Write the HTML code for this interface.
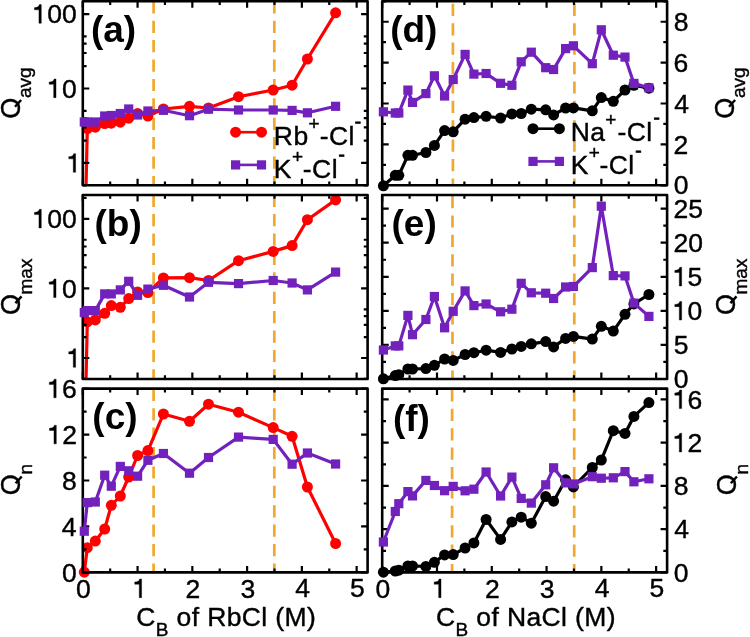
<!DOCTYPE html>
<html><head><meta charset="utf-8"><style>
html,body{margin:0;padding:0;background:#fff;}
svg{display:block;filter:blur(0.3px);}
text{font-family:"Liberation Sans",sans-serif;fill:#000;stroke:#000;stroke-width:0.4px;}
text[font-weight=bold]{stroke:none;}
</style></head><body>
<svg width="750" height="637" viewBox="0 0 750 637" font-family="Liberation Sans, sans-serif">
<rect width="750" height="637" fill="#fff"/>
<line x1="153.6" y1="1.30" x2="153.6" y2="185.60" stroke="#f0a830" stroke-width="2.7" stroke-dasharray="12.2 7.2" stroke-dashoffset="0.00"/>
<line x1="274.3" y1="1.30" x2="274.3" y2="185.60" stroke="#f0a830" stroke-width="2.7" stroke-dasharray="12.2 7.2" stroke-dashoffset="0.00"/>
<line x1="153.6" y1="195.00" x2="153.6" y2="379.30" stroke="#f0a830" stroke-width="2.7" stroke-dasharray="12.2 7.2" stroke-dashoffset="0.30"/>
<line x1="274.3" y1="195.00" x2="274.3" y2="379.30" stroke="#f0a830" stroke-width="2.7" stroke-dasharray="12.2 7.2" stroke-dashoffset="0.30"/>
<line x1="153.6" y1="388.60" x2="153.6" y2="572.70" stroke="#f0a830" stroke-width="2.7" stroke-dasharray="12.2 7.2" stroke-dashoffset="19.20"/>
<line x1="274.3" y1="388.60" x2="274.3" y2="572.70" stroke="#f0a830" stroke-width="2.7" stroke-dasharray="12.2 7.2" stroke-dashoffset="19.20"/>
<line x1="452.9" y1="1.30" x2="452.9" y2="185.60" stroke="#f0a830" stroke-width="2.7" stroke-dasharray="12.2 7.2" stroke-dashoffset="16.90"/>
<line x1="574.4" y1="1.30" x2="574.4" y2="185.60" stroke="#f0a830" stroke-width="2.7" stroke-dasharray="12.2 7.2" stroke-dashoffset="16.90"/>
<line x1="452.5" y1="195.00" x2="452.5" y2="379.30" stroke="#f0a830" stroke-width="2.7" stroke-dasharray="12.2 7.2" stroke-dashoffset="18.40"/>
<line x1="574.3" y1="195.00" x2="574.3" y2="379.30" stroke="#f0a830" stroke-width="2.7" stroke-dasharray="12.2 7.2" stroke-dashoffset="18.40"/>
<line x1="452.1" y1="388.60" x2="452.1" y2="572.70" stroke="#f0a830" stroke-width="2.7" stroke-dasharray="12.2 7.2" stroke-dashoffset="18.60"/>
<line x1="574.2" y1="388.60" x2="574.2" y2="572.70" stroke="#f0a830" stroke-width="2.7" stroke-dasharray="12.2 7.2" stroke-dashoffset="18.60"/>
<path d="M86.05,185.3L87.3,128.6L95.3,127.2L104.7,123.6L111.3,123.2L120.3,122.2L128.7,118.2L137.6,113.5L147.9,116.0L163.4,109.0L189.5,106.3L208.5,108.0L238.5,96.7L273.2,90.0L292.1,85.2L307.4,59.0L335.6,12.8" stroke="#ff0000" stroke-width="3.2" fill="none" stroke-linejoin="round"/>
<circle cx="87.3" cy="128.6" r="5.5" fill="#ff0000"/>
<circle cx="95.3" cy="127.2" r="5.5" fill="#ff0000"/>
<circle cx="104.7" cy="123.6" r="5.5" fill="#ff0000"/>
<circle cx="111.3" cy="123.2" r="5.5" fill="#ff0000"/>
<circle cx="120.3" cy="122.2" r="5.5" fill="#ff0000"/>
<circle cx="128.7" cy="118.2" r="5.5" fill="#ff0000"/>
<circle cx="137.6" cy="113.5" r="5.5" fill="#ff0000"/>
<circle cx="147.9" cy="116.0" r="5.5" fill="#ff0000"/>
<circle cx="163.4" cy="109.0" r="5.5" fill="#ff0000"/>
<circle cx="189.5" cy="106.3" r="5.5" fill="#ff0000"/>
<circle cx="208.5" cy="108.0" r="5.5" fill="#ff0000"/>
<circle cx="238.5" cy="96.7" r="5.5" fill="#ff0000"/>
<circle cx="273.2" cy="90.0" r="5.5" fill="#ff0000"/>
<circle cx="292.1" cy="85.2" r="5.5" fill="#ff0000"/>
<circle cx="307.4" cy="59.0" r="5.5" fill="#ff0000"/>
<circle cx="335.6" cy="12.8" r="5.5" fill="#ff0000"/>
<path d="M86.05,379.0L87.3,321.9L95.3,319.9L104.7,313.3L111.3,305.6L120.3,307.3L128.7,298.6L137.6,291.9L147.9,292.6L163.4,277.9L189.5,277.7L208.5,280.5L238.5,260.7L273.2,251.4L292.1,245.6L307.4,219.7L335.6,199.9" stroke="#ff0000" stroke-width="3.2" fill="none" stroke-linejoin="round"/>
<circle cx="87.3" cy="321.9" r="5.5" fill="#ff0000"/>
<circle cx="95.3" cy="319.9" r="5.5" fill="#ff0000"/>
<circle cx="104.7" cy="313.3" r="5.5" fill="#ff0000"/>
<circle cx="111.3" cy="305.6" r="5.5" fill="#ff0000"/>
<circle cx="120.3" cy="307.3" r="5.5" fill="#ff0000"/>
<circle cx="128.7" cy="298.6" r="5.5" fill="#ff0000"/>
<circle cx="137.6" cy="291.9" r="5.5" fill="#ff0000"/>
<circle cx="147.9" cy="292.6" r="5.5" fill="#ff0000"/>
<circle cx="163.4" cy="277.9" r="5.5" fill="#ff0000"/>
<circle cx="189.5" cy="277.7" r="5.5" fill="#ff0000"/>
<circle cx="208.5" cy="280.5" r="5.5" fill="#ff0000"/>
<circle cx="238.5" cy="260.7" r="5.5" fill="#ff0000"/>
<circle cx="273.2" cy="251.4" r="5.5" fill="#ff0000"/>
<circle cx="292.1" cy="245.6" r="5.5" fill="#ff0000"/>
<circle cx="307.4" cy="219.7" r="5.5" fill="#ff0000"/>
<circle cx="335.6" cy="199.9" r="5.5" fill="#ff0000"/>
<path d="M84.3,572.2L87.3,547.7L95.3,541.1L104.7,529.0L111.3,505.3L120.3,496.0L128.7,477.0L137.6,455.5L147.9,450.6L163.4,414.0L189.5,421.3L208.5,404.2L238.5,412.2L273.2,427.6L292.1,436.3L307.4,487.0L335.6,543.5" stroke="#ff0000" stroke-width="3.2" fill="none" stroke-linejoin="round"/>
<circle cx="84.3" cy="572.2" r="5.5" fill="#ff0000"/>
<circle cx="87.3" cy="547.7" r="5.5" fill="#ff0000"/>
<circle cx="95.3" cy="541.1" r="5.5" fill="#ff0000"/>
<circle cx="104.7" cy="529.0" r="5.5" fill="#ff0000"/>
<circle cx="111.3" cy="505.3" r="5.5" fill="#ff0000"/>
<circle cx="120.3" cy="496.0" r="5.5" fill="#ff0000"/>
<circle cx="128.7" cy="477.0" r="5.5" fill="#ff0000"/>
<circle cx="137.6" cy="455.5" r="5.5" fill="#ff0000"/>
<circle cx="147.9" cy="450.6" r="5.5" fill="#ff0000"/>
<circle cx="163.4" cy="414.0" r="5.5" fill="#ff0000"/>
<circle cx="189.5" cy="421.3" r="5.5" fill="#ff0000"/>
<circle cx="208.5" cy="404.2" r="5.5" fill="#ff0000"/>
<circle cx="238.5" cy="412.2" r="5.5" fill="#ff0000"/>
<circle cx="273.2" cy="427.6" r="5.5" fill="#ff0000"/>
<circle cx="292.1" cy="436.3" r="5.5" fill="#ff0000"/>
<circle cx="307.4" cy="487.0" r="5.5" fill="#ff0000"/>
<circle cx="335.6" cy="543.5" r="5.5" fill="#ff0000"/>
<path d="M383.4,185.8L395.3,175.3L398.8,175.3L407.9,155.3L412.5,155.3L425.9,152.5L434.4,145.4L444.6,130.6L453.2,131.8L465.1,119.2L473.9,117.6L486.1,116.3L500.6,118.0L511.9,113.9L521.2,113.5L531.3,109.2L545.7,109.8L553.6,114.9L565.6,108.0L573.4,107.9L592.3,110.8L601.3,97.6L613.3,101.3L625.0,90.0L633.9,85.3L648.9,88.2" stroke="#000000" stroke-width="3.2" fill="none" stroke-linejoin="round"/>
<circle cx="383.4" cy="185.8" r="5.5" fill="#000000"/>
<circle cx="395.3" cy="175.3" r="5.5" fill="#000000"/>
<circle cx="398.8" cy="175.3" r="5.5" fill="#000000"/>
<circle cx="407.9" cy="155.3" r="5.5" fill="#000000"/>
<circle cx="412.5" cy="155.3" r="5.5" fill="#000000"/>
<circle cx="425.9" cy="152.5" r="5.5" fill="#000000"/>
<circle cx="434.4" cy="145.4" r="5.5" fill="#000000"/>
<circle cx="444.6" cy="130.6" r="5.5" fill="#000000"/>
<circle cx="453.2" cy="131.8" r="5.5" fill="#000000"/>
<circle cx="465.1" cy="119.2" r="5.5" fill="#000000"/>
<circle cx="473.9" cy="117.6" r="5.5" fill="#000000"/>
<circle cx="486.1" cy="116.3" r="5.5" fill="#000000"/>
<circle cx="500.6" cy="118.0" r="5.5" fill="#000000"/>
<circle cx="511.9" cy="113.9" r="5.5" fill="#000000"/>
<circle cx="521.2" cy="113.5" r="5.5" fill="#000000"/>
<circle cx="531.3" cy="109.2" r="5.5" fill="#000000"/>
<circle cx="545.7" cy="109.8" r="5.5" fill="#000000"/>
<circle cx="553.6" cy="114.9" r="5.5" fill="#000000"/>
<circle cx="565.6" cy="108.0" r="5.5" fill="#000000"/>
<circle cx="573.4" cy="107.9" r="5.5" fill="#000000"/>
<circle cx="592.3" cy="110.8" r="5.5" fill="#000000"/>
<circle cx="601.3" cy="97.6" r="5.5" fill="#000000"/>
<circle cx="613.3" cy="101.3" r="5.5" fill="#000000"/>
<circle cx="625.0" cy="90.0" r="5.5" fill="#000000"/>
<circle cx="633.9" cy="85.3" r="5.5" fill="#000000"/>
<circle cx="648.9" cy="88.2" r="5.5" fill="#000000"/>
<path d="M383.4,378.8L395.3,375.6L398.8,374.7L407.9,369.0L412.5,369.0L425.9,368.6L434.4,365.3L444.6,359.0L453.2,360.4L465.1,354.5L473.9,352.7L486.1,350.2L500.6,352.4L511.9,349.0L521.2,346.4L531.3,343.8L545.7,341.6L553.6,346.9L565.6,338.4L573.4,336.4L592.3,339.1L601.3,326.3L613.3,331.1L625.0,314.3L633.9,303.9L648.9,294.5" stroke="#000000" stroke-width="3.2" fill="none" stroke-linejoin="round"/>
<circle cx="383.4" cy="378.8" r="5.5" fill="#000000"/>
<circle cx="395.3" cy="375.6" r="5.5" fill="#000000"/>
<circle cx="398.8" cy="374.7" r="5.5" fill="#000000"/>
<circle cx="407.9" cy="369.0" r="5.5" fill="#000000"/>
<circle cx="412.5" cy="369.0" r="5.5" fill="#000000"/>
<circle cx="425.9" cy="368.6" r="5.5" fill="#000000"/>
<circle cx="434.4" cy="365.3" r="5.5" fill="#000000"/>
<circle cx="444.6" cy="359.0" r="5.5" fill="#000000"/>
<circle cx="453.2" cy="360.4" r="5.5" fill="#000000"/>
<circle cx="465.1" cy="354.5" r="5.5" fill="#000000"/>
<circle cx="473.9" cy="352.7" r="5.5" fill="#000000"/>
<circle cx="486.1" cy="350.2" r="5.5" fill="#000000"/>
<circle cx="500.6" cy="352.4" r="5.5" fill="#000000"/>
<circle cx="511.9" cy="349.0" r="5.5" fill="#000000"/>
<circle cx="521.2" cy="346.4" r="5.5" fill="#000000"/>
<circle cx="531.3" cy="343.8" r="5.5" fill="#000000"/>
<circle cx="545.7" cy="341.6" r="5.5" fill="#000000"/>
<circle cx="553.6" cy="346.9" r="5.5" fill="#000000"/>
<circle cx="565.6" cy="338.4" r="5.5" fill="#000000"/>
<circle cx="573.4" cy="336.4" r="5.5" fill="#000000"/>
<circle cx="592.3" cy="339.1" r="5.5" fill="#000000"/>
<circle cx="601.3" cy="326.3" r="5.5" fill="#000000"/>
<circle cx="613.3" cy="331.1" r="5.5" fill="#000000"/>
<circle cx="625.0" cy="314.3" r="5.5" fill="#000000"/>
<circle cx="633.9" cy="303.9" r="5.5" fill="#000000"/>
<circle cx="648.9" cy="294.5" r="5.5" fill="#000000"/>
<path d="M383.4,572.2L395.3,571.0L398.8,570.2L407.9,566.0L412.5,566.0L425.9,566.4L434.4,562.3L444.6,554.9L453.2,554.6L465.1,548.0L473.9,542.9L486.1,519.5L500.6,539.4L511.9,521.9L521.2,517.2L531.3,523.2L545.7,496.6L553.6,501.2L565.6,479.8L573.4,486.9L592.3,467.5L601.3,460.0L613.3,430.7L625.0,433.4L633.9,416.4L648.9,402.6" stroke="#000000" stroke-width="3.2" fill="none" stroke-linejoin="round"/>
<circle cx="383.4" cy="572.2" r="5.5" fill="#000000"/>
<circle cx="395.3" cy="571.0" r="5.5" fill="#000000"/>
<circle cx="398.8" cy="570.2" r="5.5" fill="#000000"/>
<circle cx="407.9" cy="566.0" r="5.5" fill="#000000"/>
<circle cx="412.5" cy="566.0" r="5.5" fill="#000000"/>
<circle cx="425.9" cy="566.4" r="5.5" fill="#000000"/>
<circle cx="434.4" cy="562.3" r="5.5" fill="#000000"/>
<circle cx="444.6" cy="554.9" r="5.5" fill="#000000"/>
<circle cx="453.2" cy="554.6" r="5.5" fill="#000000"/>
<circle cx="465.1" cy="548.0" r="5.5" fill="#000000"/>
<circle cx="473.9" cy="542.9" r="5.5" fill="#000000"/>
<circle cx="486.1" cy="519.5" r="5.5" fill="#000000"/>
<circle cx="500.6" cy="539.4" r="5.5" fill="#000000"/>
<circle cx="511.9" cy="521.9" r="5.5" fill="#000000"/>
<circle cx="521.2" cy="517.2" r="5.5" fill="#000000"/>
<circle cx="531.3" cy="523.2" r="5.5" fill="#000000"/>
<circle cx="545.7" cy="496.6" r="5.5" fill="#000000"/>
<circle cx="553.6" cy="501.2" r="5.5" fill="#000000"/>
<circle cx="565.6" cy="479.8" r="5.5" fill="#000000"/>
<circle cx="573.4" cy="486.9" r="5.5" fill="#000000"/>
<circle cx="592.3" cy="467.5" r="5.5" fill="#000000"/>
<circle cx="601.3" cy="460.0" r="5.5" fill="#000000"/>
<circle cx="613.3" cy="430.7" r="5.5" fill="#000000"/>
<circle cx="625.0" cy="433.4" r="5.5" fill="#000000"/>
<circle cx="633.9" cy="416.4" r="5.5" fill="#000000"/>
<circle cx="648.9" cy="402.6" r="5.5" fill="#000000"/>
<path d="M82.80,185.30V178.80M82.80,1.30V7.80M110.18,185.30V181.50M110.18,1.30V5.10M137.57,185.30V178.80M137.57,1.30V7.80M164.95,185.30V181.50M164.95,1.30V5.10M192.34,185.30V178.80M192.34,1.30V7.80M219.72,185.30V181.50M219.72,1.30V5.10M247.11,185.30V178.80M247.11,1.30V7.80M274.49,185.30V181.50M274.49,1.30V5.10M301.88,185.30V178.80M301.88,1.30V7.80M329.26,185.30V181.50M329.26,1.30V5.10M356.65,185.30V178.80M356.65,1.30V7.80M82.80,185.36H86.60M367.60,185.36H363.80M82.80,162.95H89.30M367.60,162.95H361.10M82.80,140.54H86.60M367.60,140.54H363.80M82.80,127.43H86.60M367.60,127.43H363.80M82.80,118.13H86.60M367.60,118.13H363.80M82.80,110.91H86.60M367.60,110.91H363.80M82.80,88.50H89.30M367.60,88.50H361.10M82.80,66.09H86.60M367.60,66.09H363.80M82.80,52.98H86.60M367.60,52.98H363.80M82.80,43.68H86.60M367.60,43.68H363.80M82.80,36.46H86.60M367.60,36.46H363.80M82.80,14.05H89.30M367.60,14.05H361.10" stroke="#000" stroke-width="2.2" fill="none"/>
<rect x="82.80" y="1.30" width="284.80" height="184.00" fill="none" stroke="#000" stroke-width="2.6" stroke-linejoin="round"/>
<path d="M82.80,379.00V372.50M82.80,195.00V201.50M110.18,379.00V375.20M110.18,195.00V198.80M137.57,379.00V372.50M137.57,195.00V201.50M164.95,379.00V375.20M164.95,195.00V198.80M192.34,379.00V372.50M192.34,195.00V201.50M219.72,379.00V375.20M219.72,195.00V198.80M247.11,379.00V372.50M247.11,195.00V201.50M274.49,379.00V375.20M274.49,195.00V198.80M301.88,379.00V372.50M301.88,195.00V201.50M329.26,379.00V375.20M329.26,195.00V198.80M356.65,379.00V372.50M356.65,195.00V201.50M82.80,378.95H86.60M367.60,378.95H363.80M82.80,358.00H89.30M367.60,358.00H361.10M82.80,337.05H86.60M367.60,337.05H363.80M82.80,324.79H86.60M367.60,324.79H363.80M82.80,316.10H86.60M367.60,316.10H363.80M82.80,309.35H86.60M367.60,309.35H363.80M82.80,288.40H89.30M367.60,288.40H361.10M82.80,267.45H86.60M367.60,267.45H363.80M82.80,255.19H86.60M367.60,255.19H363.80M82.80,246.50H86.60M367.60,246.50H363.80M82.80,239.75H86.60M367.60,239.75H363.80M82.80,218.80H89.30M367.60,218.80H361.10M82.80,197.85H86.60M367.60,197.85H363.80" stroke="#000" stroke-width="2.2" fill="none"/>
<rect x="82.80" y="195.00" width="284.80" height="184.00" fill="none" stroke="#000" stroke-width="2.6" stroke-linejoin="round"/>
<path d="M82.80,572.40V565.90M82.80,388.60V395.10M110.18,572.40V568.60M110.18,388.60V392.40M137.57,572.40V565.90M137.57,388.60V395.10M164.95,572.40V568.60M164.95,388.60V392.40M192.34,572.40V565.90M192.34,388.60V395.10M219.72,572.40V568.60M219.72,388.60V392.40M247.11,572.40V565.90M247.11,388.60V395.10M274.49,572.40V568.60M274.49,388.60V392.40M301.88,572.40V565.90M301.88,388.60V395.10M329.26,572.40V568.60M329.26,388.60V392.40M356.65,572.40V565.90M356.65,388.60V395.10M82.80,572.40H89.30M367.60,572.40H361.10M82.80,549.42H86.60M367.60,549.42H363.80M82.80,526.45H89.30M367.60,526.45H361.10M82.80,503.48H86.60M367.60,503.48H363.80M82.80,480.50H89.30M367.60,480.50H361.10M82.80,457.52H86.60M367.60,457.52H363.80M82.80,434.55H89.30M367.60,434.55H361.10M82.80,411.58H86.60M367.60,411.58H363.80M82.80,388.60H89.30M367.60,388.60H361.10" stroke="#000" stroke-width="2.2" fill="none"/>
<rect x="82.80" y="388.60" width="284.80" height="183.80" fill="none" stroke="#000" stroke-width="2.6" stroke-linejoin="round"/>
<path d="M382.20,185.30V178.80M382.20,1.30V7.80M409.59,185.30V181.50M409.59,1.30V5.10M436.99,185.30V178.80M436.99,1.30V7.80M464.38,185.30V181.50M464.38,1.30V5.10M491.78,185.30V178.80M491.78,1.30V7.80M519.17,185.30V181.50M519.17,1.30V5.10M546.57,185.30V178.80M546.57,1.30V7.80M573.96,185.30V181.50M573.96,1.30V5.10M601.35,185.30V178.80M601.35,1.30V7.80M628.75,185.30V181.50M628.75,1.30V5.10M656.14,185.30V178.80M656.14,1.30V7.80M382.20,185.30H388.70M667.10,185.30H660.60M382.20,164.86H386.00M667.10,164.86H663.30M382.20,144.41H388.70M667.10,144.41H660.60M382.20,123.97H386.00M667.10,123.97H663.30M382.20,103.52H388.70M667.10,103.52H660.60M382.20,83.08H386.00M667.10,83.08H663.30M382.20,62.63H388.70M667.10,62.63H660.60M382.20,42.19H386.00M667.10,42.19H663.30M382.20,21.74H388.70M667.10,21.74H660.60M382.20,1.30H386.00M667.10,1.30H663.30" stroke="#000" stroke-width="2.2" fill="none"/>
<rect x="382.20" y="1.30" width="284.90" height="184.00" fill="none" stroke="#000" stroke-width="2.6" stroke-linejoin="round"/>
<path d="M382.20,379.00V372.50M382.20,195.00V201.50M409.59,379.00V375.20M409.59,195.00V198.80M436.99,379.00V372.50M436.99,195.00V201.50M464.38,379.00V375.20M464.38,195.00V198.80M491.78,379.00V372.50M491.78,195.00V201.50M519.17,379.00V375.20M519.17,195.00V198.80M546.57,379.00V372.50M546.57,195.00V201.50M573.96,379.00V375.20M573.96,195.00V198.80M601.35,379.00V372.50M601.35,195.00V201.50M628.75,379.00V375.20M628.75,195.00V198.80M656.14,379.00V372.50M656.14,195.00V201.50M382.20,379.00H388.70M667.10,379.00H660.60M382.20,361.96H386.00M667.10,361.96H663.30M382.20,344.93H388.70M667.10,344.93H660.60M382.20,327.89H386.00M667.10,327.89H663.30M382.20,310.85H388.70M667.10,310.85H660.60M382.20,293.81H386.00M667.10,293.81H663.30M382.20,276.78H388.70M667.10,276.78H660.60M382.20,259.74H386.00M667.10,259.74H663.30M382.20,242.70H388.70M667.10,242.70H660.60M382.20,225.67H386.00M667.10,225.67H663.30M382.20,208.63H388.70M667.10,208.63H660.60" stroke="#000" stroke-width="2.2" fill="none"/>
<rect x="382.20" y="195.00" width="284.90" height="184.00" fill="none" stroke="#000" stroke-width="2.6" stroke-linejoin="round"/>
<path d="M382.20,572.40V565.90M382.20,388.60V395.10M409.59,572.40V568.60M409.59,388.60V392.40M436.99,572.40V565.90M436.99,388.60V395.10M464.38,572.40V568.60M464.38,388.60V392.40M491.78,572.40V565.90M491.78,388.60V395.10M519.17,572.40V568.60M519.17,388.60V392.40M546.57,572.40V565.90M546.57,388.60V395.10M573.96,572.40V568.60M573.96,388.60V392.40M601.35,572.40V565.90M601.35,388.60V395.10M628.75,572.40V568.60M628.75,388.60V392.40M656.14,572.40V565.90M656.14,388.60V395.10M382.20,572.40H388.70M667.10,572.40H660.60M382.20,550.78H386.00M667.10,550.78H663.30M382.20,529.15H388.70M667.10,529.15H660.60M382.20,507.53H386.00M667.10,507.53H663.30M382.20,485.91H388.70M667.10,485.91H660.60M382.20,464.28H386.00M667.10,464.28H663.30M382.20,442.66H388.70M667.10,442.66H660.60M382.20,421.04H386.00M667.10,421.04H663.30M382.20,399.41H388.70M667.10,399.41H660.60" stroke="#000" stroke-width="2.2" fill="none"/>
<rect x="382.20" y="388.60" width="284.90" height="183.80" fill="none" stroke="#000" stroke-width="2.6" stroke-linejoin="round"/>
<path d="M84.3,122.0L87.3,122.0L95.3,122.0L104.7,116.0L111.3,115.5L120.3,113.5L128.7,109.0L137.6,115.0L147.9,111.0L163.4,110.3L189.5,115.7L208.5,109.2L238.5,110.0L273.2,110.0L292.1,110.4L307.4,112.8L335.6,106.3" stroke="#7221bc" stroke-width="3.2" fill="none" stroke-linejoin="round"/>
<rect x="79.7" y="117.4" width="9.2" height="9.2" fill="#7221bc"/>
<rect x="82.7" y="117.4" width="9.2" height="9.2" fill="#7221bc"/>
<rect x="90.7" y="117.4" width="9.2" height="9.2" fill="#7221bc"/>
<rect x="100.1" y="111.4" width="9.2" height="9.2" fill="#7221bc"/>
<rect x="106.7" y="110.9" width="9.2" height="9.2" fill="#7221bc"/>
<rect x="115.7" y="108.9" width="9.2" height="9.2" fill="#7221bc"/>
<rect x="124.1" y="104.4" width="9.2" height="9.2" fill="#7221bc"/>
<rect x="133.0" y="110.4" width="9.2" height="9.2" fill="#7221bc"/>
<rect x="143.3" y="106.4" width="9.2" height="9.2" fill="#7221bc"/>
<rect x="158.8" y="105.7" width="9.2" height="9.2" fill="#7221bc"/>
<rect x="184.9" y="111.1" width="9.2" height="9.2" fill="#7221bc"/>
<rect x="203.9" y="104.6" width="9.2" height="9.2" fill="#7221bc"/>
<rect x="233.9" y="105.4" width="9.2" height="9.2" fill="#7221bc"/>
<rect x="268.6" y="105.4" width="9.2" height="9.2" fill="#7221bc"/>
<rect x="287.5" y="105.8" width="9.2" height="9.2" fill="#7221bc"/>
<rect x="302.8" y="108.2" width="9.2" height="9.2" fill="#7221bc"/>
<rect x="331.0" y="101.7" width="9.2" height="9.2" fill="#7221bc"/>
<path d="M84.3,312.6L87.3,310.6L95.3,310.6L104.7,293.9L111.3,293.9L120.3,289.9L128.7,281.3L137.6,295.3L147.9,289.1L163.4,285.3L189.5,297.0L208.5,282.3L238.5,283.6L273.2,280.5L292.1,283.0L307.4,289.9L335.6,272.1" stroke="#7221bc" stroke-width="3.2" fill="none" stroke-linejoin="round"/>
<rect x="79.7" y="308.0" width="9.2" height="9.2" fill="#7221bc"/>
<rect x="82.7" y="306.0" width="9.2" height="9.2" fill="#7221bc"/>
<rect x="90.7" y="306.0" width="9.2" height="9.2" fill="#7221bc"/>
<rect x="100.1" y="289.3" width="9.2" height="9.2" fill="#7221bc"/>
<rect x="106.7" y="289.3" width="9.2" height="9.2" fill="#7221bc"/>
<rect x="115.7" y="285.3" width="9.2" height="9.2" fill="#7221bc"/>
<rect x="124.1" y="276.7" width="9.2" height="9.2" fill="#7221bc"/>
<rect x="133.0" y="290.7" width="9.2" height="9.2" fill="#7221bc"/>
<rect x="143.3" y="284.5" width="9.2" height="9.2" fill="#7221bc"/>
<rect x="158.8" y="280.7" width="9.2" height="9.2" fill="#7221bc"/>
<rect x="184.9" y="292.4" width="9.2" height="9.2" fill="#7221bc"/>
<rect x="203.9" y="277.7" width="9.2" height="9.2" fill="#7221bc"/>
<rect x="233.9" y="279.0" width="9.2" height="9.2" fill="#7221bc"/>
<rect x="268.6" y="275.9" width="9.2" height="9.2" fill="#7221bc"/>
<rect x="287.5" y="278.4" width="9.2" height="9.2" fill="#7221bc"/>
<rect x="302.8" y="285.3" width="9.2" height="9.2" fill="#7221bc"/>
<rect x="331.0" y="267.5" width="9.2" height="9.2" fill="#7221bc"/>
<path d="M84.3,531.2L87.3,502.6L95.3,502.0L104.7,475.2L111.3,486.2L120.3,466.4L128.7,470.8L137.6,476.2L147.9,460.3L163.4,453.5L189.5,473.2L208.5,457.5L238.5,437.1L273.2,439.4L292.1,464.2L307.4,453.0L335.6,464.0" stroke="#7221bc" stroke-width="3.2" fill="none" stroke-linejoin="round"/>
<rect x="79.7" y="526.6" width="9.2" height="9.2" fill="#7221bc"/>
<rect x="82.7" y="498.0" width="9.2" height="9.2" fill="#7221bc"/>
<rect x="90.7" y="497.4" width="9.2" height="9.2" fill="#7221bc"/>
<rect x="100.1" y="470.6" width="9.2" height="9.2" fill="#7221bc"/>
<rect x="106.7" y="481.6" width="9.2" height="9.2" fill="#7221bc"/>
<rect x="115.7" y="461.8" width="9.2" height="9.2" fill="#7221bc"/>
<rect x="124.1" y="466.2" width="9.2" height="9.2" fill="#7221bc"/>
<rect x="133.0" y="471.6" width="9.2" height="9.2" fill="#7221bc"/>
<rect x="143.3" y="455.7" width="9.2" height="9.2" fill="#7221bc"/>
<rect x="158.8" y="448.9" width="9.2" height="9.2" fill="#7221bc"/>
<rect x="184.9" y="468.6" width="9.2" height="9.2" fill="#7221bc"/>
<rect x="203.9" y="452.9" width="9.2" height="9.2" fill="#7221bc"/>
<rect x="233.9" y="432.5" width="9.2" height="9.2" fill="#7221bc"/>
<rect x="268.6" y="434.8" width="9.2" height="9.2" fill="#7221bc"/>
<rect x="287.5" y="459.6" width="9.2" height="9.2" fill="#7221bc"/>
<rect x="302.8" y="448.4" width="9.2" height="9.2" fill="#7221bc"/>
<rect x="331.0" y="459.4" width="9.2" height="9.2" fill="#7221bc"/>
<path d="M383.4,111.8L395.3,113.0L398.8,113.0L407.9,90.1L412.5,102.4L425.9,93.6L434.4,75.8L444.6,96.0L453.2,79.5L465.1,54.4L473.9,74.1L486.1,73.5L500.6,83.3L511.9,85.3L521.2,61.8L531.3,52.2L545.7,67.7L553.6,69.5L565.6,48.6L573.4,45.8L592.3,63.7L601.3,29.8L613.3,55.2L625.0,57.1L633.9,83.4L648.9,87.8" stroke="#7221bc" stroke-width="3.2" fill="none" stroke-linejoin="round"/>
<rect x="378.8" y="107.2" width="9.2" height="9.2" fill="#7221bc"/>
<rect x="390.7" y="108.4" width="9.2" height="9.2" fill="#7221bc"/>
<rect x="394.2" y="108.4" width="9.2" height="9.2" fill="#7221bc"/>
<rect x="403.3" y="85.5" width="9.2" height="9.2" fill="#7221bc"/>
<rect x="407.9" y="97.8" width="9.2" height="9.2" fill="#7221bc"/>
<rect x="421.3" y="89.0" width="9.2" height="9.2" fill="#7221bc"/>
<rect x="429.8" y="71.2" width="9.2" height="9.2" fill="#7221bc"/>
<rect x="440.0" y="91.4" width="9.2" height="9.2" fill="#7221bc"/>
<rect x="448.6" y="74.9" width="9.2" height="9.2" fill="#7221bc"/>
<rect x="460.5" y="49.8" width="9.2" height="9.2" fill="#7221bc"/>
<rect x="469.3" y="69.5" width="9.2" height="9.2" fill="#7221bc"/>
<rect x="481.5" y="68.9" width="9.2" height="9.2" fill="#7221bc"/>
<rect x="496.0" y="78.7" width="9.2" height="9.2" fill="#7221bc"/>
<rect x="507.3" y="80.7" width="9.2" height="9.2" fill="#7221bc"/>
<rect x="516.6" y="57.2" width="9.2" height="9.2" fill="#7221bc"/>
<rect x="526.7" y="47.6" width="9.2" height="9.2" fill="#7221bc"/>
<rect x="541.1" y="63.1" width="9.2" height="9.2" fill="#7221bc"/>
<rect x="549.0" y="64.9" width="9.2" height="9.2" fill="#7221bc"/>
<rect x="561.0" y="44.0" width="9.2" height="9.2" fill="#7221bc"/>
<rect x="568.8" y="41.2" width="9.2" height="9.2" fill="#7221bc"/>
<rect x="587.7" y="59.1" width="9.2" height="9.2" fill="#7221bc"/>
<rect x="596.7" y="25.2" width="9.2" height="9.2" fill="#7221bc"/>
<rect x="608.7" y="50.6" width="9.2" height="9.2" fill="#7221bc"/>
<rect x="620.4" y="52.5" width="9.2" height="9.2" fill="#7221bc"/>
<rect x="629.3" y="78.8" width="9.2" height="9.2" fill="#7221bc"/>
<rect x="644.3" y="83.2" width="9.2" height="9.2" fill="#7221bc"/>
<path d="M383.4,350.0L395.3,345.9L398.8,345.9L407.9,315.4L412.5,334.7L425.9,319.5L434.4,296.5L444.6,327.8L453.2,311.3L465.1,290.9L473.9,305.6L486.1,304.0L500.6,311.8L511.9,309.2L521.2,283.3L531.3,292.8L545.7,293.2L553.6,298.5L565.6,287.0L573.4,286.5L592.3,267.6L601.3,206.2L613.3,275.6L625.0,275.9L633.9,303.1L648.9,316.4" stroke="#7221bc" stroke-width="3.2" fill="none" stroke-linejoin="round"/>
<rect x="378.8" y="345.4" width="9.2" height="9.2" fill="#7221bc"/>
<rect x="390.7" y="341.3" width="9.2" height="9.2" fill="#7221bc"/>
<rect x="394.2" y="341.3" width="9.2" height="9.2" fill="#7221bc"/>
<rect x="403.3" y="310.8" width="9.2" height="9.2" fill="#7221bc"/>
<rect x="407.9" y="330.1" width="9.2" height="9.2" fill="#7221bc"/>
<rect x="421.3" y="314.9" width="9.2" height="9.2" fill="#7221bc"/>
<rect x="429.8" y="291.9" width="9.2" height="9.2" fill="#7221bc"/>
<rect x="440.0" y="323.2" width="9.2" height="9.2" fill="#7221bc"/>
<rect x="448.6" y="306.7" width="9.2" height="9.2" fill="#7221bc"/>
<rect x="460.5" y="286.3" width="9.2" height="9.2" fill="#7221bc"/>
<rect x="469.3" y="301.0" width="9.2" height="9.2" fill="#7221bc"/>
<rect x="481.5" y="299.4" width="9.2" height="9.2" fill="#7221bc"/>
<rect x="496.0" y="307.2" width="9.2" height="9.2" fill="#7221bc"/>
<rect x="507.3" y="304.6" width="9.2" height="9.2" fill="#7221bc"/>
<rect x="516.6" y="278.7" width="9.2" height="9.2" fill="#7221bc"/>
<rect x="526.7" y="288.2" width="9.2" height="9.2" fill="#7221bc"/>
<rect x="541.1" y="288.6" width="9.2" height="9.2" fill="#7221bc"/>
<rect x="549.0" y="293.9" width="9.2" height="9.2" fill="#7221bc"/>
<rect x="561.0" y="282.4" width="9.2" height="9.2" fill="#7221bc"/>
<rect x="568.8" y="281.9" width="9.2" height="9.2" fill="#7221bc"/>
<rect x="587.7" y="263.0" width="9.2" height="9.2" fill="#7221bc"/>
<rect x="596.7" y="201.6" width="9.2" height="9.2" fill="#7221bc"/>
<rect x="608.7" y="271.0" width="9.2" height="9.2" fill="#7221bc"/>
<rect x="620.4" y="271.3" width="9.2" height="9.2" fill="#7221bc"/>
<rect x="629.3" y="298.5" width="9.2" height="9.2" fill="#7221bc"/>
<rect x="644.3" y="311.8" width="9.2" height="9.2" fill="#7221bc"/>
<path d="M383.4,542.0L395.3,511.5L398.8,503.7L407.9,491.6L412.5,495.9L425.9,480.4L434.4,485.5L444.6,490.7L453.2,486.4L465.1,490.8L473.9,489.2L486.1,472.0L500.6,496.0L511.9,477.1L521.2,498.4L531.3,503.1L545.7,484.8L553.6,467.8L565.6,482.9L573.4,483.9L592.3,476.7L601.3,478.2L613.3,477.8L625.0,471.6L633.9,481.8L648.9,478.8" stroke="#7221bc" stroke-width="3.2" fill="none" stroke-linejoin="round"/>
<rect x="378.8" y="537.4" width="9.2" height="9.2" fill="#7221bc"/>
<rect x="390.7" y="506.9" width="9.2" height="9.2" fill="#7221bc"/>
<rect x="394.2" y="499.1" width="9.2" height="9.2" fill="#7221bc"/>
<rect x="403.3" y="487.0" width="9.2" height="9.2" fill="#7221bc"/>
<rect x="407.9" y="491.3" width="9.2" height="9.2" fill="#7221bc"/>
<rect x="421.3" y="475.8" width="9.2" height="9.2" fill="#7221bc"/>
<rect x="429.8" y="480.9" width="9.2" height="9.2" fill="#7221bc"/>
<rect x="440.0" y="486.1" width="9.2" height="9.2" fill="#7221bc"/>
<rect x="448.6" y="481.8" width="9.2" height="9.2" fill="#7221bc"/>
<rect x="460.5" y="486.2" width="9.2" height="9.2" fill="#7221bc"/>
<rect x="469.3" y="484.6" width="9.2" height="9.2" fill="#7221bc"/>
<rect x="481.5" y="467.4" width="9.2" height="9.2" fill="#7221bc"/>
<rect x="496.0" y="491.4" width="9.2" height="9.2" fill="#7221bc"/>
<rect x="507.3" y="472.5" width="9.2" height="9.2" fill="#7221bc"/>
<rect x="516.6" y="493.8" width="9.2" height="9.2" fill="#7221bc"/>
<rect x="526.7" y="498.5" width="9.2" height="9.2" fill="#7221bc"/>
<rect x="541.1" y="480.2" width="9.2" height="9.2" fill="#7221bc"/>
<rect x="549.0" y="463.2" width="9.2" height="9.2" fill="#7221bc"/>
<rect x="561.0" y="478.3" width="9.2" height="9.2" fill="#7221bc"/>
<rect x="568.8" y="479.3" width="9.2" height="9.2" fill="#7221bc"/>
<rect x="587.7" y="472.1" width="9.2" height="9.2" fill="#7221bc"/>
<rect x="596.7" y="473.6" width="9.2" height="9.2" fill="#7221bc"/>
<rect x="608.7" y="473.2" width="9.2" height="9.2" fill="#7221bc"/>
<rect x="620.4" y="467.0" width="9.2" height="9.2" fill="#7221bc"/>
<rect x="629.3" y="477.2" width="9.2" height="9.2" fill="#7221bc"/>
<rect x="644.3" y="474.2" width="9.2" height="9.2" fill="#7221bc"/>
<path d="M334 0L334 703L265 703C247 628 193 592 76 588L76 506L246 506L246 0Z" transform="translate(66.75,172.26) scale(0.02650,-0.02650)" fill="#000" stroke="#000" stroke-width="15.09"/>
<path d="M334 0L334 703L265 703C247 628 193 592 76 588L76 506L246 506L246 0Z" transform="translate(47.16,97.69) scale(0.02650,-0.02650)" fill="#000" stroke="#000" stroke-width="15.09"/>
<text x="61.90" y="97.69" font-size="26.5" >0</text>
<path d="M334 0L334 703L265 703C247 628 193 592 76 588L76 506L246 506L246 0Z" transform="translate(32.43,23.24) scale(0.02650,-0.02650)" fill="#000" stroke="#000" stroke-width="15.09"/>
<text x="47.16" y="23.24" font-size="26.5" >0</text>
<text x="61.90" y="23.24" font-size="26.5" >0</text>
<path d="M334 0L334 703L265 703C247 628 193 592 76 588L76 506L246 506L246 0Z" transform="translate(66.75,367.31) scale(0.02650,-0.02650)" fill="#000" stroke="#000" stroke-width="15.09"/>
<path d="M334 0L334 703L265 703C247 628 193 592 76 588L76 506L246 506L246 0Z" transform="translate(47.16,297.59) scale(0.02650,-0.02650)" fill="#000" stroke="#000" stroke-width="15.09"/>
<text x="61.90" y="297.59" font-size="26.5" >0</text>
<path d="M334 0L334 703L265 703C247 628 193 592 76 588L76 506L246 506L246 0Z" transform="translate(32.43,227.99) scale(0.02650,-0.02650)" fill="#000" stroke="#000" stroke-width="15.09"/>
<text x="47.16" y="227.99" font-size="26.5" >0</text>
<text x="61.90" y="227.99" font-size="26.5" >0</text>
<text x="61.90" y="581.52" font-size="26.5" >0</text>
<text x="61.64" y="535.57" font-size="26.5" >4</text>
<text x="62.01" y="489.62" font-size="26.5" >8</text>
<path d="M334 0L334 703L265 703C247 628 193 592 76 588L76 506L246 506L246 0Z" transform="translate(47.46,443.86) scale(0.02650,-0.02650)" fill="#000" stroke="#000" stroke-width="15.09"/>
<text x="62.19" y="443.86" font-size="26.5" >2</text>
<path d="M334 0L334 703L265 703C247 628 193 592 76 588L76 506L246 506L246 0Z" transform="translate(47.29,397.79) scale(0.02650,-0.02650)" fill="#000" stroke="#000" stroke-width="15.09"/>
<text x="62.03" y="397.79" font-size="26.5" >6</text>
<text x="673.76" y="194.42" font-size="26.5" >0</text>
<text x="673.47" y="153.66" font-size="26.5" >2</text>
<text x="674.19" y="112.64" font-size="26.5" >4</text>
<text x="673.45" y="71.76" font-size="26.5" >6</text>
<text x="673.65" y="30.87" font-size="26.5" >8</text>
<text x="673.76" y="388.12" font-size="26.5" >0</text>
<text x="673.74" y="353.91" font-size="26.5" >5</text>
<path d="M334 0L334 703L265 703C247 628 193 592 76 588L76 506L246 506L246 0Z" transform="translate(672.79,320.04) scale(0.02650,-0.02650)" fill="#000" stroke="#000" stroke-width="15.09"/>
<text x="687.52" y="320.04" font-size="26.5" >0</text>
<path d="M334 0L334 703L265 703C247 628 193 592 76 588L76 506L246 506L246 0Z" transform="translate(672.79,285.96) scale(0.02650,-0.02650)" fill="#000" stroke="#000" stroke-width="15.09"/>
<text x="687.52" y="285.96" font-size="26.5" >5</text>
<text x="673.47" y="251.83" font-size="26.5" >20</text>
<text x="673.47" y="217.75" font-size="26.5" >25</text>
<text x="673.76" y="581.52" font-size="26.5" >0</text>
<text x="674.19" y="538.27" font-size="26.5" >4</text>
<text x="673.65" y="495.03" font-size="26.5" >8</text>
<path d="M334 0L334 703L265 703C247 628 193 592 76 588L76 506L246 506L246 0Z" transform="translate(672.79,451.97) scale(0.02650,-0.02650)" fill="#000" stroke="#000" stroke-width="15.09"/>
<text x="687.52" y="451.97" font-size="26.5" >2</text>
<path d="M334 0L334 703L265 703C247 628 193 592 76 588L76 506L246 506L246 0Z" transform="translate(672.79,408.60) scale(0.02650,-0.02650)" fill="#000" stroke="#000" stroke-width="15.09"/>
<text x="687.52" y="408.60" font-size="26.5" >6</text>
<text x="76.03" y="597.50" font-size="26.5" >0</text>
<path d="M334 0L334 703L265 703C247 628 193 592 76 588L76 506L246 506L246 0Z" transform="translate(132.74,597.63) scale(0.02650,-0.02650)" fill="#000" stroke="#000" stroke-width="15.09"/>
<text x="185.57" y="597.50" font-size="26.5" >2</text>
<text x="240.42" y="597.50" font-size="26.5" >3</text>
<text x="295.19" y="597.23" font-size="26.5" >4</text>
<text x="349.90" y="597.23" font-size="26.5" >5</text>
<text x="375.43" y="597.50" font-size="26.5" >0</text>
<path d="M334 0L334 703L265 703C247 628 193 592 76 588L76 506L246 506L246 0Z" transform="translate(432.16,597.63) scale(0.02650,-0.02650)" fill="#000" stroke="#000" stroke-width="15.09"/>
<text x="485.01" y="597.50" font-size="26.5" >2</text>
<text x="539.87" y="597.50" font-size="26.5" >3</text>
<text x="594.67" y="597.23" font-size="26.5" >4</text>
<text x="649.40" y="597.23" font-size="26.5" >5</text>
<text x="90.96" y="42.11" font-size="37" font-weight="bold" >(a)</text>
<text x="94.56" y="235.81" font-size="37" font-weight="bold" >(b)</text>
<text x="92.36" y="429.11" font-size="37" font-weight="bold" >(c)</text>
<text x="390.16" y="42.11" font-size="37" font-weight="bold" >(d)</text>
<text x="391.56" y="236.41" font-size="37" font-weight="bold" >(e)</text>
<text x="392.96" y="431.41" font-size="37" font-weight="bold" >(f)</text>
<g transform="translate(19.80,118.64) rotate(-90)"><text x="0" y="0" font-size="26.5" transform="scale(1.02,1.055)">O</text><text x="20.61" y="10.7" font-size="19">avg</text><line x1="11.93" y1="-4.77" x2="18.68" y2="1.33" stroke="#000" stroke-width="2.44"/></g>
<g transform="translate(20.20,315.08) rotate(-90)"><text x="0" y="0" font-size="26.5" transform="scale(1.02,1.055)">O</text><text x="20.61" y="12.2" font-size="19">max</text><line x1="11.93" y1="-4.77" x2="18.68" y2="1.33" stroke="#000" stroke-width="2.44"/></g>
<g transform="translate(20.40,495.20) rotate(-90)"><text x="0" y="0" font-size="26.5" transform="scale(1.02,1.055)">O</text><text x="20.61" y="12.0" font-size="19">n</text><line x1="11.93" y1="-4.77" x2="18.68" y2="1.33" stroke="#000" stroke-width="2.44"/></g>
<g transform="translate(733.80,118.64) rotate(-90)"><text x="0" y="0" font-size="26.5" transform="scale(1.02,1.055)">O</text><text x="20.61" y="10.7" font-size="19">avg</text><line x1="11.93" y1="-4.77" x2="18.68" y2="1.33" stroke="#000" stroke-width="2.44"/></g>
<g transform="translate(735.20,315.08) rotate(-90)"><text x="0" y="0" font-size="26.5" transform="scale(1.02,1.055)">O</text><text x="20.61" y="12.2" font-size="19">max</text><line x1="11.93" y1="-4.77" x2="18.68" y2="1.33" stroke="#000" stroke-width="2.44"/></g>
<g transform="translate(735.60,495.20) rotate(-90)"><text x="0" y="0" font-size="26.5" transform="scale(1.02,1.055)">O</text><text x="20.61" y="12.0" font-size="19">n</text><line x1="11.93" y1="-4.77" x2="18.68" y2="1.33" stroke="#000" stroke-width="2.44"/></g>
<text x="136.25" y="626.40" font-size="26.5" letter-spacing="0.38">C<tspan font-size="19" dy="10.0">B</tspan><tspan dy="-10.0"> of RbCl (M)</tspan></text>
<text x="435.95" y="626.40" font-size="26.5" letter-spacing="0.38">C<tspan font-size="19" dy="10.0">B</tspan><tspan dy="-10.0"> of NaCl (M)</tspan></text>
<line x1="235.6" y1="132.2" x2="261.5" y2="132.2" stroke="#ff0000" stroke-width="2.6"/>
<circle cx="235.6" cy="132.2" r="5.5" fill="#ff0000"/>
<circle cx="261.5" cy="132.2" r="5.5" fill="#ff0000"/>
<text x="273.83" y="144.7" font-size="26.5" letter-spacing="0.42">Rb<tspan font-size="19" dy="-14.9">+</tspan><tspan dy="14.9" dx="-0.4">-Cl</tspan><tspan font-size="19" dy="-16.4" dx="0.0" stroke="#000" stroke-width="0.8">-</tspan></text>
<line x1="235.6" y1="164.9" x2="261.5" y2="164.9" stroke="#7221bc" stroke-width="2.6"/>
<rect x="231.0" y="160.3" width="9.2" height="9.2" fill="#7221bc"/>
<rect x="256.9" y="160.3" width="9.2" height="9.2" fill="#7221bc"/>
<text x="273.83" y="177.6" font-size="26.5" letter-spacing="0.42">K<tspan font-size="19" dy="-14.9">+</tspan><tspan dy="14.9" dx="-0.6">-Cl</tspan><tspan font-size="19" dy="-16.4" dx="0.4" stroke="#000" stroke-width="0.8">-</tspan></text>
<line x1="533.0" y1="128.7" x2="559.4" y2="128.7" stroke="#000000" stroke-width="2.6"/>
<circle cx="533.0" cy="128.7" r="5.5" fill="#000000"/>
<circle cx="559.4" cy="128.7" r="5.5" fill="#000000"/>
<text x="570.63" y="140.8" font-size="26.5" letter-spacing="0.42">Na<tspan font-size="19" dy="-14.9">+</tspan><tspan dy="14.9" dx="0.6">-Cl</tspan><tspan font-size="19" dy="-16.4" dx="0.8" stroke="#000" stroke-width="0.8">-</tspan></text>
<line x1="533.0" y1="161.4" x2="559.4" y2="161.4" stroke="#7221bc" stroke-width="2.6"/>
<rect x="528.4" y="156.8" width="9.2" height="9.2" fill="#7221bc"/>
<rect x="554.8" y="156.8" width="9.2" height="9.2" fill="#7221bc"/>
<text x="570.63" y="173.8" font-size="26.5" letter-spacing="0.42">K<tspan font-size="19" dy="-14.9">+</tspan><tspan dy="14.9" dx="-0.8">-Cl</tspan><tspan font-size="19" dy="-16.4" dx="0.6" stroke="#000" stroke-width="0.8">-</tspan></text>
</svg>
</body></html>
